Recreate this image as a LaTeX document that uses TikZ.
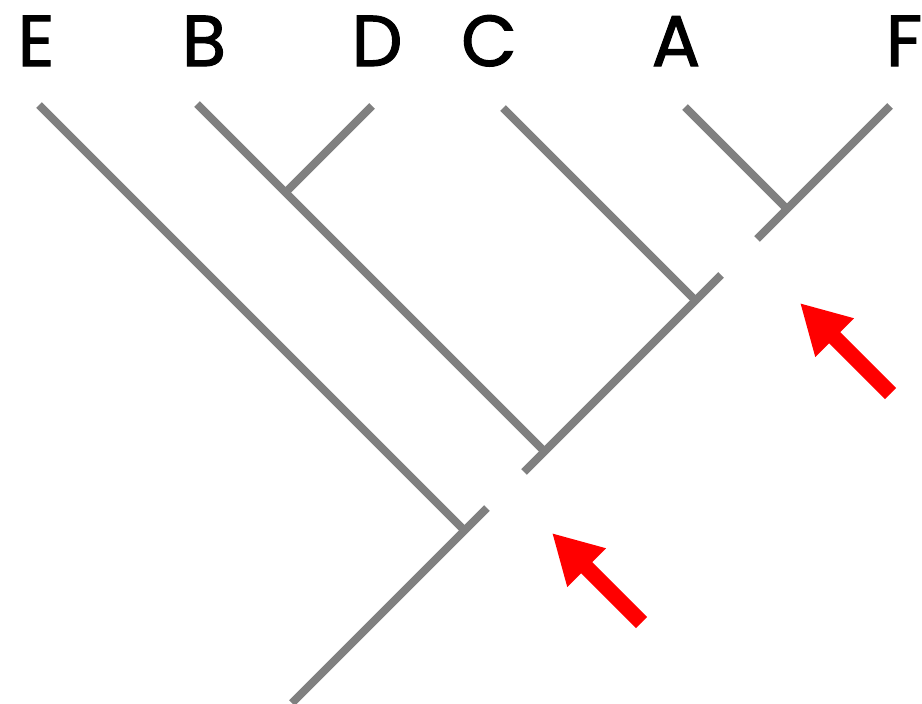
\documentclass[tikz,border=0pt]{standalone}
\usepackage{fontspec}
\setmainfont{Poppins}
\newfontfamily\taxonfont{Poppins}[FakeBold=1.6]
\usetikzlibrary{arrows.meta}
\definecolor{branchgray}{RGB}{128,128,128}
\definecolor{pointerred}{RGB}{255,0,0}
\begin{document}
\begin{tikzpicture}[x=1pt,y=-1pt,
  branch/.style={draw=branchgray, line width=8pt, line cap=butt},
  taxon/.style={font=\taxonfont\fontsize{72}{72}\selectfont, inner sep=0pt, anchor=base},
  pointer/.style={draw=pointerred, fill=pointerred, line width=15.6pt,
    -{Triangle[length=49pt,width=51pt]}}]
\useasboundingbox (0,0) rectangle (922,704);

% taxon labels
\node[taxon] (labE) at (36,66) {E};
\node[taxon] (labB) at (204,66) {B};
\node[taxon] (labD) at (377,66) {D};
\node[taxon] (labC) at (489,66) {C};
\node[taxon] (labA) at (676,66) {A};
\node[taxon] (labF) at (904,66) {F};

% branch tips
\coordinate (tE) at (39,105);
\coordinate (tB) at (197,104);
\coordinate (tD) at (372,106);
\coordinate (tC) at (503,108);
\coordinate (tA) at (685,107);
\coordinate (tF) at (890,106);

% segments of the main diagonal
\coordinate (root) at (292,703);
\coordinate (rootTop) at (487,508);
\coordinate (bcdLow) at (524,472);
\coordinate (bcdTop) at (721,275);
\coordinate (afLow) at (757,239);

% internal nodes
\coordinate (nE) at (464.5,530.5);
\coordinate (nB) at (544.5,451.5);
\coordinate (nC) at (695.5,300.5);
\coordinate (nD) at (285.5,192.5);
\coordinate (nA) at (787,209);

\draw[branch] (root) -- (rootTop);
\draw[branch] (tE) -- (nE);
\draw[branch] (bcdLow) -- (bcdTop);
\draw[branch] (tB) -- (nB);
\draw[branch] (tD) -- (nD);
\draw[branch] (tC) -- (nC);
\draw[branch] (afLow) -- (tF);
\draw[branch] (tA) -- (nA);

% red pointers at the gaps
\coordinate (p1tail) at (641.5,622.5);
\coordinate (p1tip) at (552,533);
\coordinate (p2tail) at (890.5,393.5);
\coordinate (p2tip) at (800,303);
\draw[pointer] (p1tail) -- (p1tip);
\draw[pointer] (p2tail) -- (p2tip);
\end{tikzpicture}
\end{document}
